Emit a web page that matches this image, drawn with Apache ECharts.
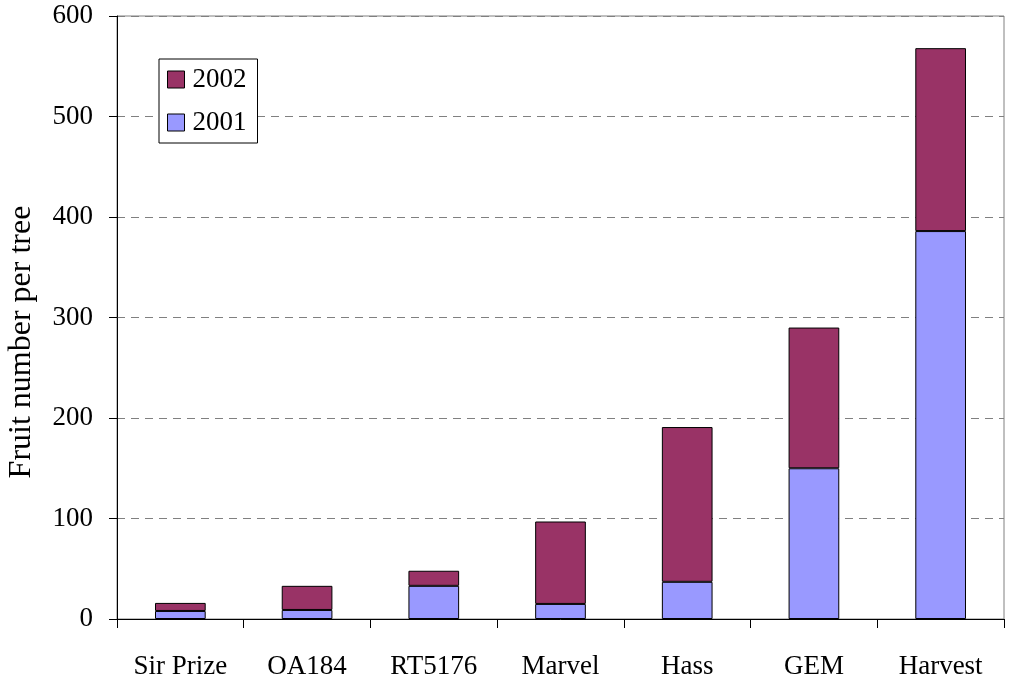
<!DOCTYPE html>
<html>
<head>
<meta charset="utf-8">
<script src="https://cdn.jsdelivr.net/npm/echarts@6/dist/echarts.min.js"></script>
<style>html,body{margin:0;padding:0;background:#fff}#c{width:1011px;height:683px}</style>
</head>
<body>
<div id="c"></div>
<script>
var categories = ['Sir Prize', 'OA184', 'RT5176', 'Marvel', 'Hass', 'GEM', 'Harvest'];
var values2001 = [8, 9, 33, 15, 37, 150, 386];
var values2002 = [8, 24, 15, 82, 154, 140, 182];
var yTicks = [0, 100, 200, 300, 400, 500, 600];
var yTitle = 'Fruit number per tree';

var font = 'Liberation Serif, Times New Roman, serif';
var chart = echarts.init(document.getElementById('c'));
chart.setOption({
  animation: false,
  textStyle: { fontFamily: font },
  grid: { left: 117, right: 7, top: 16, bottom: 64, show: true, borderColor: '#808080', borderWidth: 1 },
  legend: {
    orient: 'vertical', left: 159, top: 59,
    data: ['2002', '2001'],
    backgroundColor: '#fff', borderColor: '#000', borderWidth: 1,
    padding: [7, 11, 7, 8], itemGap: 16,
    itemWidth: 17, itemHeight: 17, icon: 'rect',
    itemStyle: { borderColor: '#000', borderWidth: 1 },
    textStyle: { fontFamily: font, fontSize: 27, color: '#000', padding: [0, 0, 0, 3] }
  },
  graphic: [{
    type: 'text', x: 22, y: 342, rotation: Math.PI / 2,
    style: { text: yTitle, fontFamily: font, fontSize: 32, fill: '#000', textAlign: 'center', textVerticalAlign: 'middle' }
  }],
  xAxis: {
    type: 'category', data: categories,
    axisLine: { lineStyle: { color: '#000', width: 1 } },
    axisTick: { show: true, length: 9, lineStyle: { color: '#000' } },
    axisLabel: { fontFamily: font, fontSize: 27, color: '#000', margin: 34 }
  },
  yAxis: {
    type: 'value', min: yTicks[0], max: yTicks[yTicks.length - 1], interval: 100,
    axisLine: { show: true, lineStyle: { color: '#000', width: 1 } },
    axisTick: { show: true, length: 8, lineStyle: { color: '#000' } },
    axisLabel: { fontFamily: font, fontSize: 27, color: '#000', margin: 24 },
    splitLine: { show: true, lineStyle: { color: '#808080', type: [8, 6], width: 1 } }
  },
  series: [
    { name: '2001', type: 'bar', stack: 't', data: values2001, barCategoryGap: '60%',
      itemStyle: { color: '#9999FF', borderColor: '#000', borderWidth: 1 } },
    { name: '2002', type: 'bar', stack: 't', data: values2002, barCategoryGap: '60%',
      itemStyle: { color: '#993366', borderColor: '#000', borderWidth: 1 } }
  ]
});
</script>
</body>
</html>
